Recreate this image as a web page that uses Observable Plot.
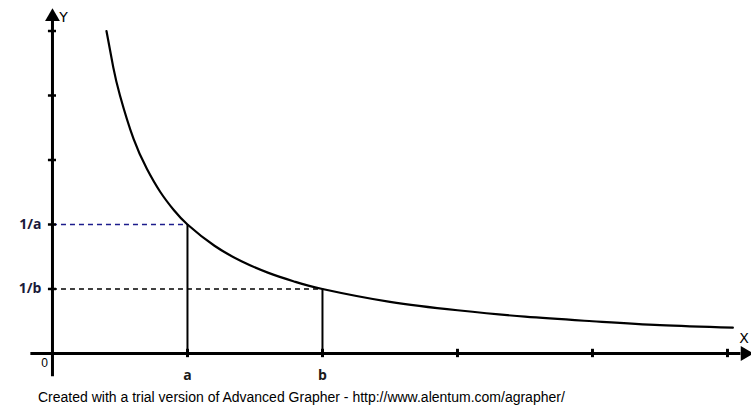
<!DOCTYPE html>
<html>
<head>
<meta charset="utf-8">
<script src="https://cdn.jsdelivr.net/npm/d3@7"></script>
<script src="https://cdn.jsdelivr.net/npm/@observablehq/plot@0.6"></script>
<style>
  html, body { margin: 0; padding: 0; background: #fff; }
  #chart { position: relative; width: 751px; }
  #caption { font-family: "Liberation Sans", Arial, sans-serif; font-size: 14px; color: #000; padding-left: 38px; height: 26px; line-height: 22px; }
</style>
</head>
<body>
<div id="chart"></div>
<div id="caption">Created with a trial version of Advanced Grapher - http://www.alentum.com/agrapher/</div>
<script>
// ---- data ----
const xTicks = [1, 2, 3, 4, 5];
const yTicks = [1, 2, 3, 4, 5];
const aValue = 1;          // position of "a" on x
const bValue = 2;          // position of "b" on x
const invA = 2;            // 1/a on y
const invB = 1;            // 1/b on y
const curveX = [0.40, 0.45, 0.50, 0.60, 0.70, 0.80, 0.90, 1.00, 1.20, 1.40, 1.60, 1.80, 2.00, 2.50, 3.00, 3.50, 4.00, 4.50, 5.04];
const curveY = [5.00, 4.44, 4.00, 3.33, 2.86, 2.50, 2.22, 2.00, 1.67, 1.43, 1.25, 1.11, 1.00, 0.80, 0.67, 0.57, 0.50, 0.44, 0.40];
const xLabels = ["a", "b"];
const yLabels = ["1/a", "1/b"];
const originLabel = "0";
const xAxisName = "X";
const yAxisName = "Y";
const xAxisEnd = 5.13;
const yAxisEnd = 5.22;

// ---- tables built from the arrays ----
const curve = curveX.map((x, i) => ({x, y: curveY[i]}));
const drops = [{x: aValue, y: invA}, {x: bValue, y: invB}];
const guides = [
  {y: invA, x2: aValue, color: "#1c1c8c"},
  {y: invB, x2: bValue, color: "#000000"}
];
const xLab = [{x: aValue, t: xLabels[0]}, {x: bValue, t: xLabels[1]}];
const yLab = [{y: invA, t: yLabels[0]}, {y: invB, t: yLabels[1]}];

const plot = Plot.plot({
  width: 751,
  height: 386,
  marginTop: 0, marginRight: 0, marginBottom: 0, marginLeft: 0,
  x: {domain: [-0.385, 5.178], axis: null},
  y: {domain: [-0.512, 5.473], axis: null},
  style: {background: "#fff"},
  marks: [
    // dashed guides
    Plot.ruleY(guides, {y: "y", x1: 0, x2: "x2", stroke: "color", strokeWidth: 1.3, strokeDasharray: "5,4"}),
    // vertical drops
    Plot.ruleX(drops, {x: "x", y1: 0, y2: "y", stroke: "#000", strokeWidth: 2}),
    // curve
    Plot.line(curve, {x: "x", y: "y", stroke: "#000", strokeWidth: 2.2, curve: "natural"}),
    // axes
    Plot.ruleY([0], {x1: -0.16, x2: xAxisEnd - 0.03, stroke: "#000", strokeWidth: 3}),
    Plot.ruleX([0], {y1: -0.36, y2: yAxisEnd - 0.05, stroke: "#000", strokeWidth: 3}),
    // ticks
    Plot.ruleX(xTicks, {x: d => d, y1: -0.065, y2: 0.065, stroke: "#000", strokeWidth: 3}),
    Plot.ruleY(yTicks, {y: d => d, x1: -0.03, x2: 0.03, stroke: "#000", strokeWidth: 2.5}),
    // arrow heads
    Plot.dot([0], {x: 0, y: yAxisEnd, symbol: "triangle", r: 5.5, fill: "#000", stroke: null}),
    Plot.dot([0], {x: xAxisEnd, y: 0, symbol: "triangle", r: 5.5, fill: "#000", stroke: null, rotate: 90}),
    // labels
    Plot.text(yLab, {x: 0, y: "y", text: "t", textAnchor: "end", dx: -11, fontSize: 14, fontWeight: "bold", fill: "#1a1a3a", fontFamily: "Open Sans, sans-serif"}),
    Plot.text(xLab, {x: "x", y: 0, text: "t", dy: 22, fontSize: 14, fontWeight: "bold", fill: "#1a1a1a", fontFamily: "Open Sans, sans-serif"}),
    Plot.text([originLabel], {x: 0, y: 0, text: d => d, dx: -8, dy: 10, fontSize: 12, fill: "#000", fontFamily: "Liberation Sans, sans-serif"}),
    Plot.text([yAxisName], {x: 0, y: yAxisEnd, text: d => d, dx: 11, dy: 1, fontSize: 14, fill: "#000", fontFamily: "DejaVu Sans, sans-serif"}),
    Plot.text([xAxisName], {x: xAxisEnd, y: 0, text: d => d, dx: -1, dy: -15, fontSize: 14, fill: "#000", fontFamily: "DejaVu Sans, sans-serif"})
  ]
});
document.getElementById("chart").appendChild(plot);
</script>
</body>
</html>
